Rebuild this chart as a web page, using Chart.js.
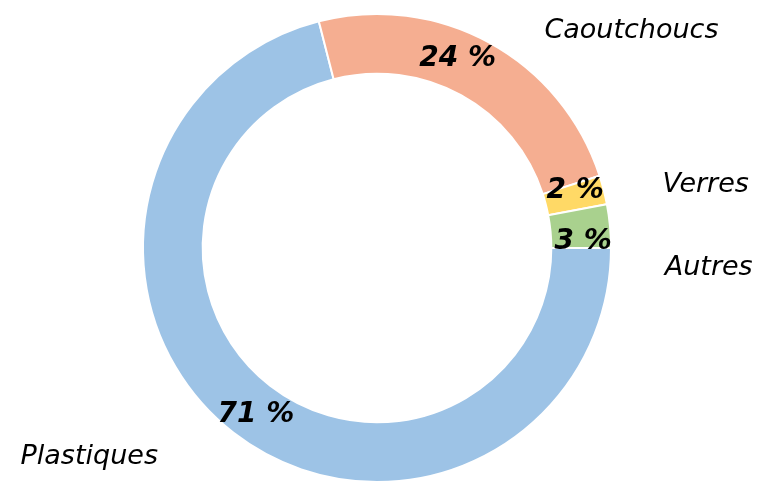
<!DOCTYPE html>
<html>
<head>
<meta charset="utf-8">
<script src="https://cdn.jsdelivr.net/npm/chart.js@4"></script>
<style>
  html, body { margin: 0; padding: 0; background: #fff; }
  #wrap { width: 767px; height: 484px; }
</style>
</head>
<body>
<div id="wrap"><canvas id="donut" width="767" height="484"></canvas></div>
<script>
// Data
const categories = ['Plastiques', 'Caoutchoucs', 'Verres', 'Autres'];
const shares = [71, 24, 2, 3];

const colors = ['#9dc3e6', '#f5ae91', '#ffd966', '#a9d18e'];
const FONT = "'Comic Sans MS', 'DejaVu Sans', sans-serif";

// label placement: angle shift (deg) for the % text, polar spot for the names
const pctShift = [-1.8, -5.8, -1.6, 3.7];
const nameSpot = [[234, 1.52], [49.5, 1.43], [79.2, 1.43], [93.4, 1.42]];

const labelPlugin = {
    id: 'ringLabels',
    afterDatasetsDraw(chart) {
        const ctx = chart.ctx;
        const arcs = chart.getDatasetMeta(0).data;
        ctx.save();
        ctx.fillStyle = '#000';
        ctx.textAlign = 'center';
        ctx.textBaseline = 'middle';
        arcs.forEach((arc, i) => {
            const p = arc.getProps(['x', 'y', 'startAngle', 'endAngle', 'innerRadius', 'outerRadius'], true);
            // percent value on the ring
            const mid = (p.startAngle + p.endAngle) / 2 + pctShift[i] * Math.PI / 180;
            const r = (p.innerRadius + p.outerRadius) / 2 + 2;
            ctx.font = 'italic bold 28px ' + FONT;
            ctx.fillText(shares[i] + ' %', p.x + Math.cos(mid) * r, p.y + Math.sin(mid) * r);
            // category name outside
            const a = (nameSpot[i][0] - 90) * Math.PI / 180;
            const rr = p.outerRadius * nameSpot[i][1];
            ctx.font = 'italic 27px ' + FONT;
            ctx.fillText(categories[i], p.x + Math.cos(a) * rr, p.y + Math.sin(a) * rr);
        });
        ctx.restore();
    }
};

window.onload = function () {
    const ctx = document.getElementById('donut').getContext('2d');
    new Chart(ctx, {
        type: 'doughnut',
        data: {
            labels: categories,
            datasets: [{
                data: shares,
                backgroundColor: colors,
                borderColor: '#ffffff',
                borderWidth: 2
            }]
        },
        options: {
            responsive: false,
            animation: false,
            rotation: 90,
            cutout: '74.5%',
            layout: { padding: { top: 13, bottom: 1, left: 0, right: 13 } },
            plugins: {
                legend: { display: false },
                tooltip: { enabled: false }
            }
        },
        plugins: [labelPlugin]
    });
};
</script>
</body>
</html>
